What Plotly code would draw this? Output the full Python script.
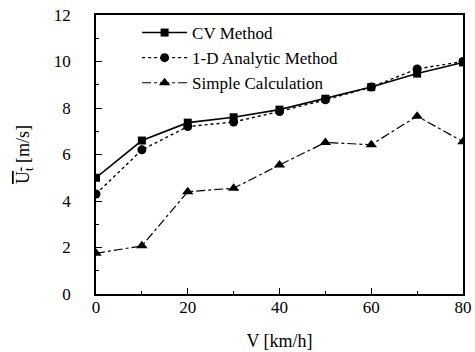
import plotly.graph_objects as go

speed = [0, 10, 20, 30, 40, 50, 60, 70, 80]
cv_method = [5.0, 6.6, 7.37, 7.6, 7.93, 8.4, 8.9, 9.48, 9.96]
analytic_1d = [4.3, 6.2, 7.2, 7.4, 7.85, 8.35, 8.9, 9.68, 10.0]
simple_calc = [1.75, 2.07, 4.4, 4.55, 5.55, 6.52, 6.42, 7.65, 6.55]

FONT = "Liberation Serif"

fig = go.Figure()
fig.add_trace(go.Scatter(x=speed, y=cv_method, name="CV Method", mode="lines+markers",
                         line=dict(color="black", width=1.6),
                         marker=dict(symbol="square", size=8, color="black")))
fig.add_trace(go.Scatter(x=speed, y=analytic_1d, name="1-D Analytic Method", mode="lines+markers",
                         line=dict(color="black", width=1.4, dash="dot"),
                         marker=dict(symbol="circle", size=9, color="black")))
fig.add_trace(go.Scatter(x=speed, y=simple_calc, name="Simple Calculation", mode="lines+markers",
                         line=dict(color="black", width=1.2, dash="dashdot"),
                         marker=dict(symbol="triangle-up", size=10, color="black")))

fig.add_annotation(text="<span style='text-decoration:overline'>U<sub>t</sub></span> [m/s]",
                   xref="paper", yref="paper", x=-0.195, y=0.5,
                   xanchor="center", yanchor="middle", textangle=-90, showarrow=False,
                   font=dict(size=18, family=FONT, color="black"))

fig.update_layout(
    width=475, height=352,
    margin=dict(l=96, r=12, t=15, b=58),
    paper_bgcolor="white", plot_bgcolor="white",
    font=dict(family=FONT, size=17, color="black"),
    showlegend=True,
    legend=dict(x=0.112, y=1.0, xanchor="left", yanchor="top",
                bgcolor="rgba(0,0,0,0)", font=dict(size=17, family=FONT),
                itemwidth=45, tracegroupgap=0),
    xaxis=dict(range=[0, 80], dtick=20, tick0=0, showgrid=False, zeroline=False,
               showline=True, linecolor="black", linewidth=1.5, mirror=True,
               ticks="inside", ticklen=6, tickcolor="black", automargin=False,
               ticklabelstandoff=-3,
               minor=dict(dtick=10, ticks="inside", ticklen=3, tickcolor="black"),
               title=dict(text="V [km/h]", font=dict(size=18), standoff=18)),
    yaxis=dict(range=[0, 12], dtick=2, tick0=0, showgrid=False, zeroline=False,
               showline=True, linecolor="black", linewidth=1.5, mirror=True,
               ticks="inside", ticklen=6, tickcolor="black", automargin=False,
               minor=dict(dtick=1, ticks="inside", ticklen=3, tickcolor="black"),
               ticklabelstandoff=20),
)

fig.write_html("out.html", config={"displayModeBar": False},
               post_script="document.body.style.margin='0';document.body.style.padding='0';")
